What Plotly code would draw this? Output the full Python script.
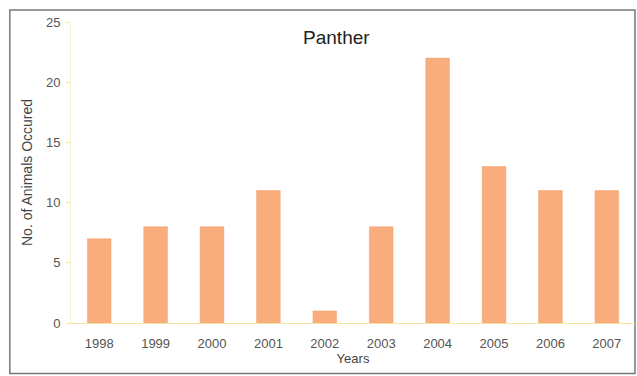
import plotly.graph_objects as go

years = ["1998", "1999", "2000", "2001", "2002", "2003", "2004", "2005", "2006", "2007"]
animals = [7, 8, 8, 11, 1, 8, 22, 13, 11, 11]
y_ticks = [0, 5, 10, 15, 20, 25]

fig = go.Figure(
    go.Bar(
        x=years,
        y=animals,
        marker=dict(color="#F9AC7C", line=dict(color="#F4A070", width=0.5)),
        width=0.42,
    )
)

fig.update_layout(
    width=637,
    height=376,
    margin=dict(l=71, r=2, t=22, b=53),
    paper_bgcolor="white",
    plot_bgcolor="white",
    font=dict(family="Liberation Sans, Arial", color="#444444"),
    showlegend=False,
    title=dict(
        text="Panther",
        x=0.528,
        xanchor="center",
        y=0.9,
        yanchor="middle",
        font=dict(size=19, color="#222222"),
    ),
    shapes=[
        dict(
            type="rect",
            xref="paper",
            yref="paper",
            x0=-0.1085,
            x1=1.0,
            y0=-0.168,
            y1=1.04,
            line=dict(color="#777777", width=1.5),
            fillcolor="rgba(0,0,0,0)",
            layer="below",
        )
    ],
)

fig.update_xaxes(
    type="category",
    showgrid=False,
    showline=True,
    linecolor="#F2E6A0",
    linewidth=1,
    ticks="",
    ticklabelstandoff=8,
    tickfont=dict(size=13, color="#555555"),
    title=dict(text="Years", font=dict(size=13, color="#444444"), standoff=0),
)

fig.update_yaxes(
    range=[0, 25],
    tickvals=y_ticks,
    showgrid=False,
    showline=True,
    linecolor="#FBF3D0",
    linewidth=1,
    ticks="outside",
    ticklen=4,
    tickcolor="#F2E6A0",
    zeroline=False,
    ticklabelstandoff=3,
    tickfont=dict(size=13, color="#555555"),
    title=dict(text="No. of Animals Occured", font=dict(size=14, color="#444444"), standoff=10),
)

fig.write_html("out.html")
